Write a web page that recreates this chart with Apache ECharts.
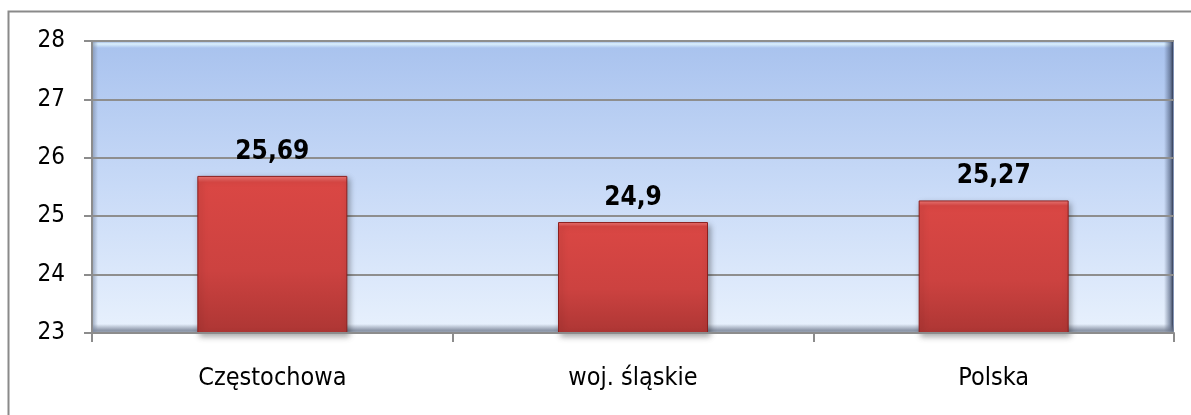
<!DOCTYPE html>
<html>
<head>
<meta charset="utf-8">
<script src="https://cdn.jsdelivr.net/npm/echarts@6/dist/echarts.min.js"></script>
<style>
html,body{margin:0;padding:0;background:#fff;}
#c{width:1191px;height:415px;}
</style>
</head>
<body>
<div id="c"></div>
<script>
const categories = ['Częstochowa', 'woj. śląskie', 'Polska'];
const values = [25.69, 24.9, 25.27];
const yMin = 23, yMax = 28, yInterval = 1;

const FONT = '"DejaVu Sans Condensed", "DejaVu Sans", sans-serif';
const G = {left: 92, right: 17, top: 41, bottom: 82};
const W = 1191, H = 415;
const px0 = G.left, px1 = W - G.right, py0 = G.top, py1 = H - G.bottom;

const chart = echarts.init(document.getElementById('c'), null, {renderer: 'canvas'});
chart.setOption({
  animation: false,
  backgroundColor: '#ffffff',
  grid: {
    left: G.left, right: G.right, top: G.top, bottom: G.bottom,
    show: true,
    borderWidth: 0,
    backgroundColor: {
      type: 'linear', x: 0, y: 0, x2: 0, y2: 1,
      colorStops: [
        {offset: 0, color: '#a8c2ee'},
        {offset: 0.5, color: '#c8daf7'},
        {offset: 1, color: '#e8f1fd'}
      ]
    }
  },
  graphic: [
    {type: 'polyline', z: 0, silent: true,
      shape: {points: [[8.5, H], [8.5, 11.5], [W, 11.5]]},
      style: {stroke: '#8a8a8a', lineWidth: 2, fill: null}},
    {type: 'rect', z: 1, silent: true,
      shape: {x: px0, y: py0, width: px1 - px0, height: 7},
      style: {fill: {type: 'linear', x: 0, y: 0, x2: 0, y2: 1,
        colorStops: [{offset: 0, color: 'rgba(140,165,215,0.9)'}, {offset: 0.4, color: 'rgba(225,245,255,0.9)'}, {offset: 1, color: 'rgba(225,245,255,0)'}]}}},
    {type: 'rect', z: 1, silent: true,
      shape: {x: px1 - 10, y: py0, width: 10, height: py1 - py0},
      style: {fill: {type: 'linear', x: 0, y: 0, x2: 1, y2: 0,
        colorStops: [{offset: 0, color: 'rgba(70,85,115,0)'}, {offset: 0.6, color: 'rgba(70,85,115,0.6)'}, {offset: 0.85, color: 'rgba(50,60,85,0.9)'}, {offset: 1, color: 'rgba(160,180,220,0.9)'}]}}},
    {type: 'rect', z: 1, silent: true,
      shape: {x: px0, y: py1 - 9, width: px1 - px0, height: 9},
      style: {fill: {type: 'linear', x: 0, y: 0, x2: 0, y2: 1,
        colorStops: [{offset: 0, color: 'rgba(110,120,140,0)'}, {offset: 0.7, color: 'rgba(110,120,140,0.75)'}, {offset: 1, color: 'rgba(150,160,175,0.9)'}]}}},
    {type: 'rect', z: 1, silent: true,
      shape: {x: px0, y: py0, width: 6, height: py1 - py0},
      style: {fill: {type: 'linear', x: 0, y: 0, x2: 1, y2: 0,
        colorStops: [{offset: 0, color: 'rgba(120,135,160,0.7)'}, {offset: 1, color: 'rgba(120,135,160,0)'}]}}}
  ],
  xAxis: {
    type: 'category',
    data: categories,
    boundaryGap: true,
    axisLine: {show: true, lineStyle: {color: '#8c8c8c', width: 2}},
    axisTick: {show: true, length: 9, lineStyle: {color: '#8c8c8c', width: 2}},
    axisLabel: {color: '#000', fontFamily: FONT, fontSize: 25, margin: 33},
    z: 4
  },
  yAxis: {
    type: 'value',
    min: yMin, max: yMax, interval: yInterval,
    axisLine: {show: true, lineStyle: {color: '#8c8c8c', width: 2}},
    axisTick: {show: true, length: 8, lineStyle: {color: '#8c8c8c', width: 2}},
    axisLabel: {color: '#000', fontFamily: FONT, fontSize: 24, margin: 27},
    splitLine: {show: true, lineStyle: {color: '#8e8e8e', width: 2}},
    z: 2
  },
  series: [{
    type: 'bar',
    data: values,
    barWidth: 150,
    z: 3,
    itemStyle: {
      color: {
        type: 'linear', x: 0, y: 0, x2: 0, y2: 1,
        colorStops: [
          {offset: 0, color: '#f07a78'},
          {offset: 0.04, color: '#da4744'},
          {offset: 0.6, color: '#cc4240'},
          {offset: 1, color: '#ad3634'}
        ]
      },
      borderColor: '#8c1f1e',
      borderWidth: 1,
      shadowColor: 'rgba(0,0,0,0.35)',
      shadowBlur: 6,
      shadowOffsetX: 2,
      shadowOffsetY: 3
    },
    label: {
      show: true,
      position: 'top',
      distance: 11,
      color: '#000',
      fontFamily: FONT,
      fontWeight: 'bold',
      fontSize: 26,
      formatter: p => String(p.value).replace('.', ',')
    }
  }]
});
</script>
</body>
</html>
